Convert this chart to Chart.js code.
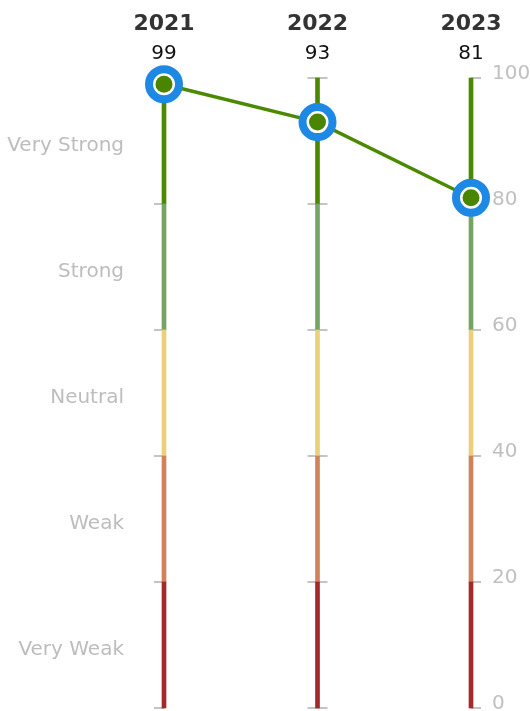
<!DOCTYPE html>
<html>
<head>
<meta charset="utf-8">
<script src="https://cdn.jsdelivr.net/npm/chart.js@4/dist/chart.umd.min.js"></script>
<style>
    html, body { margin: 0; padding: 0; background: #fff; }
    #wrap { width: 530px; height: 711px; }
</style>
</head>
<body>
<div id="wrap"><canvas id="chart"></canvas></div>
<script>
// Data
const years = ['2021', '2022', '2023'];
const scores = [99, 93, 81];
const bandEdges = [0, 20, 40, 60, 80, 100];
const bandNames = ['Very Weak', 'Weak', 'Neutral', 'Strong', 'Very Strong'];
const bandColors = ['#a3292a', '#d2825a', '#ebd07c', '#76a465', '#4b8a00'];
const scaleTicks = [0, 20, 40, 60, 80, 100];

const FONT = "'DejaVu Sans', sans-serif";

// one floating bar dataset per band, same range on each year
const bandSets = bandNames.map((name, i) => ({
    type: 'bar',
    label: name,
    data: years.map(() => [bandEdges[i], bandEdges[i + 1]]),
    backgroundColor: bandColors[i],
    barThickness: 4,
    grouped: false,
    clip: false,
    order: 5,
    yAxisID: 'y'
}));

// tick marks on each of the three rails + value labels above them
const railPlugin = {
    id: 'rails',
    beforeDatasetsDraw(chart) {
        const ctx = chart.ctx;
        const x = chart.scales.x;
        const y = chart.scales.y;
        ctx.save();
        ctx.strokeStyle = '#c4c4c4';
        ctx.lineWidth = 2;
        years.forEach((yr, i) => {
            const px = x.getPixelForValue(i);
            const left = i < years.length - 1 ? 10 : 0;
            const right = i > 0 ? 10 : 0;
            scaleTicks.forEach(v => {
                const py = Math.round(y.getPixelForValue(v));
                ctx.beginPath();
                ctx.moveTo(px - left, py);
                ctx.lineTo(px + right, py);
                ctx.stroke();
            });
        });
        ctx.restore();
    },
    afterDraw(chart) {
        const ctx = chart.ctx;
        const x = chart.scales.x;
        ctx.save();
        ctx.fillStyle = '#111';
        ctx.font = '20px ' + FONT;
        ctx.textAlign = 'center';
        ctx.textBaseline = 'middle';
        scores.forEach((v, i) => {
            ctx.fillText(String(v), x.getPixelForValue(i), 54);
        });
        ctx.restore();
    }
};

const ctx = document.getElementById('chart');
new Chart(ctx, {
    data: {
        labels: years,
        datasets: [
            ...bandSets,
            {
                type: 'line',
                label: 'Score',
                data: scores,
                borderColor: '#4b8a00',
                borderWidth: 3.5,
                pointRadius: 15,
                pointHoverRadius: 15,
                pointBorderWidth: 8,
                pointBorderColor: '#1e88e5',
                pointBackgroundColor: '#ffffff',
                clip: false,
                order: 2,
                yAxisID: 'y'
            },
            {
                type: 'line',
                label: 'Score dot',
                data: scores,
                showLine: false,
                pointRadius: 8.5,
                pointHoverRadius: 8.5,
                pointBorderWidth: 0,
                pointBackgroundColor: '#4a8500',
                clip: false,
                order: 1,
                yAxisID: 'y'
            }
        ]
    },
    options: {
        responsive: true,
        maintainAspectRatio: false,
        animation: false,
        layout: { autoPadding: false, padding: { top: 0, bottom: 3, left: 0, right: 0 } },
        plugins: {
            legend: { display: false },
            tooltip: { enabled: false }
        },
        scales: {
            x: {
                position: 'top',
                offset: false,
                grid: { display: false },
                border: { display: false },
                ticks: {
                    color: '#333',
                    font: { family: FONT, size: 22, weight: 'bold' },
                    padding: 33,
                    maxRotation: 0
                },
                afterFit(scale) {
                    scale.height = 78;
                    scale.paddingLeft = 0;
                    scale.paddingRight = 0;
                }
            },
            y: {
                position: 'right',
                min: 0,
                max: 100,
                grid: { display: false },
                border: { display: false },
                afterBuildTicks(scale) {
                    scale.ticks = scaleTicks.map(v => ({ value: v }));
                },
                ticks: {
                    color: '#c0c0c0',
                    font: { family: FONT, size: 20 },
                    padding: 13,
                    labelOffset: -4
                },
                afterFit(scale) {
                    scale.width = 59;
                    scale.paddingTop = 0;
                    scale.paddingBottom = 0;
                }
            },
            bands: {
                position: 'left',
                min: 0,
                max: 100,
                grid: { display: false },
                border: { display: false },
                afterBuildTicks(scale) {
                    scale.ticks = bandNames.map((n, i) => ({ value: (bandEdges[i] + bandEdges[i + 1]) / 2 }));
                },
                ticks: {
                    color: '#bdbdbd',
                    font: { family: FONT, size: 20 },
                    padding: 32,
                    labelOffset: 5,
                    callback: (v) => bandNames[bandEdges.indexOf(v - 10)]
                },
                afterFit(scale) {
                    scale.width = 164;
                    scale.paddingTop = 0;
                    scale.paddingBottom = 0;
                }
            }
        }
    },
    plugins: [railPlugin]
});
</script>
</body>
</html>
